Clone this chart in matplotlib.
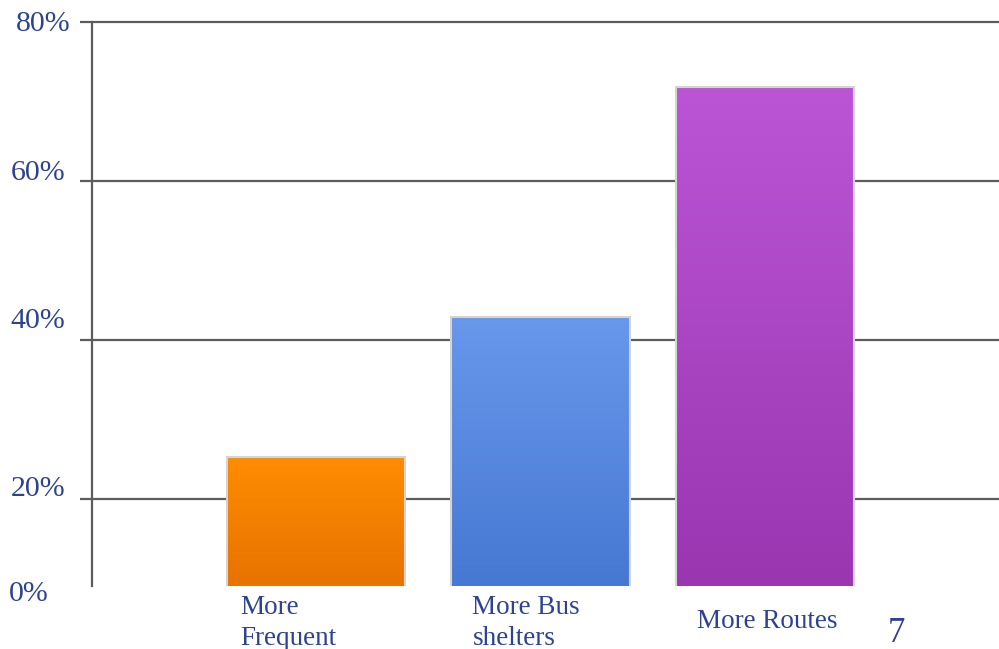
import numpy as np
import matplotlib
matplotlib.use('Agg')
import matplotlib.pyplot as plt
from matplotlib import transforms
from matplotlib.colors import LinearSegmentedColormap

# Dados
categorias = ['More\nFrequent', 'More Bus\nshelters', 'More Routes']
valores = [25.3, 42.9, 71.8]
ytick_valores = [20, 40, 60, 80]
ytick_labels = ['20%', '40%', '60%', '80%']
numero_pagina = '7'

# Cores de gradiente (topo, base) para cada barra
gradientes = [('#ff8c00', '#e77300'), ('#6898ec', '#4778d2'), ('#bb55d6', '#9a36b0')]
cor_texto = '#2d4391'
cor_grade = '#5c5c5c'

plt.rcParams['font.family'] = ['Liberation Serif', 'DejaVu Serif']

fig = plt.figure(figsize=(9.99, 6.49), dpi=100)
ax = fig.add_axes([0.0921, 0.0971, 0.9079, 0.869])

largura = 0.795
x = np.arange(len(categorias))
bars = ax.bar(x, valores, width=largura, color='none', edgecolor='#d4d4d4', linewidth=1.5, zorder=3)

ax.set_xlim(-1.0, 3.045)
ax.set_ylim(9.06, 80)

# Preenchimento com gradiente vertical
grad = np.linspace(0, 1, 256).reshape(-1, 1)
for bar, (topo, base) in zip(bars, gradientes):
    cmap = LinearSegmentedColormap.from_list('g', [base, topo])
    x0 = bar.get_x()
    x1 = x0 + bar.get_width()
    y1 = bar.get_height()
    im = ax.imshow(grad, cmap=cmap, aspect='auto', origin='lower',
                   extent=[x0, x1, ax.get_ylim()[0], y1], zorder=2)
    im.set_clip_path(bar)
ax.set_xlim(-1.0, 3.045)
ax.set_ylim(9.06, 80)

# Grade horizontal
ax.set_yticks(ytick_valores)
ax.set_yticklabels([])
ax.tick_params(axis='y', length=9, width=1.6, color=cor_grade)
ax.set_xticks([])
ax.grid(axis='y', color=cor_grade, linewidth=1.6, zorder=1)
ax.set_axisbelow(True)
for linha in ax.yaxis.get_gridlines():
    linha.set_clip_on(False)

for lado in ['top', 'right', 'bottom']:
    ax.spines[lado].set_visible(False)
ax.spines['left'].set_color(cor_grade)
ax.spines['left'].set_linewidth(1.6)

# Rótulos do eixo Y (deslocados como no original)
trans_y = transforms.blended_transform_factory(ax.transAxes, ax.transData)
deslocamentos = [(-27, 10), (-27, 19), (-27, 8), (-22, -2)]
for v, lbl, (dx, dy) in zip(ytick_valores, ytick_labels, deslocamentos):
    t = transforms.offset_copy(trans_y, fig=fig, x=dx, y=dy, units='dots')
    ax.text(0, v, lbl, transform=t, ha='right', va='center', fontsize=21.5, color=cor_texto)
t0 = transforms.offset_copy(ax.transAxes, fig=fig, x=-43, y=-8, units='dots')
ax.text(0, 0, '0%', transform=t0, ha='right', va='center', fontsize=21.5, color=cor_texto)

# Rótulos das categorias, alinhados à esquerda dentro da largura da barra
trans_x = transforms.blended_transform_factory(ax.transData, ax.transAxes)
recuos = [0.058, 0.094, 0.094]
for i, (cat, r) in enumerate(zip(categorias, recuos)):
    if '\n' in cat:
        t = transforms.offset_copy(trans_x, fig=fig, x=0, y=-9, units='dots')
        ax.text(i - largura / 2 + r, 0, cat, transform=t, ha='left', va='top',
                fontsize=19.5, color=cor_texto, linespacing=1.3)
    else:
        t = transforms.offset_copy(trans_x, fig=fig, x=0, y=-36, units='dots')
        ax.text(i - largura / 2 + r, 0, cat, transform=t, ha='left', va='center',
                fontsize=19.5, color=cor_texto)

fig.text(896 / 999, 1 - 633 / 649, numero_pagina, ha='center', va='center',
         fontsize=25, color=cor_texto)

fig.savefig('out.png', dpi=100, facecolor='white')
